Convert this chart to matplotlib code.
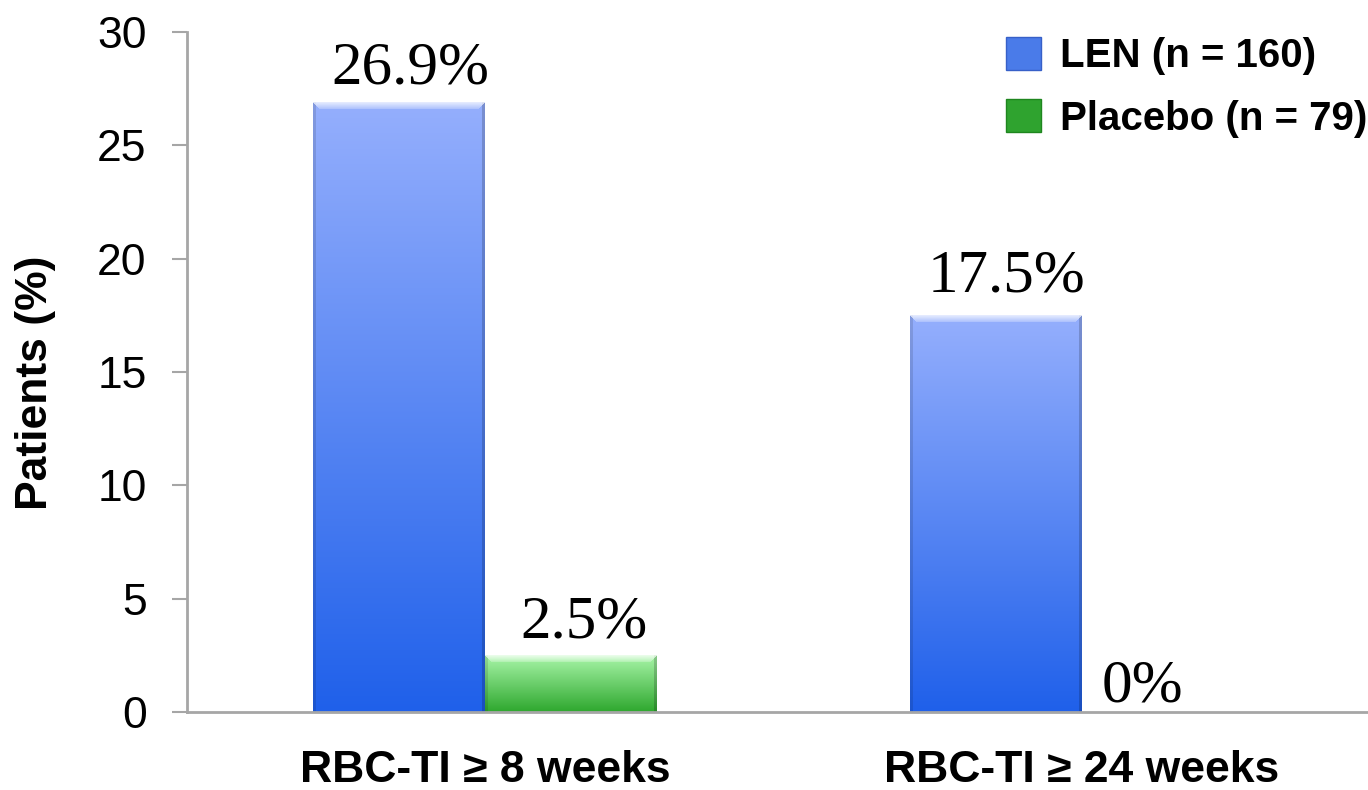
import matplotlib

matplotlib.use("Agg")
import matplotlib.pyplot as plt
import numpy as np
from matplotlib.colors import to_rgb
from matplotlib.patches import Patch

# response rates by endpoint
categories = ["RBC-TI \u2265 8 weeks", "RBC-TI \u2265 24 weeks"]
len_pct = [26.9, 17.5]
placebo_pct = [2.5, 0.0]
series_labels = ["LEN (n = 160)", "Placebo (n = 79)"]
value_text_len = ["26.9%", "17.5%"]
value_text_placebo = ["2.5%", "0%"]
yticks = [0, 5, 10, 15, 20, 25, 30]

BLUE_TOP, BLUE_BOT = "#95affd", "#1f60ea"
GREEN_TOP, GREEN_BOT = "#a8f5a8", "#2fa82f"
AXIS_GREY = "#a6a6a6"

W, H, DPI = 13.68, 7.90, 100
BAR_W = 0.288


def gradient_fill(ax, bar, top, bot, bevel=7):
    """Paint a bar with a vertical gradient plus a light bevel on top."""
    x0, y0 = bar.get_x(), bar.get_y()
    x1, y1 = x0 + bar.get_width(), y0 + bar.get_height()
    (px0, py0), (px1, py1) = ax.transData.transform([(x0, y0), (x1, y1)])
    npx_w = max(int(round(px1 - px0)), 2)
    npx_h = max(int(round(py1 - py0)), 2)
    t = np.linspace(0, 1, npx_h)[:, None, None]
    c_top, c_bot = np.array(to_rgb(top)), np.array(to_rgb(bot))
    img = c_top * (1 - t) + c_bot * t
    img = np.repeat(img, npx_w, axis=1)
    # darker side edges
    side = 3
    img[:, :side] *= 0.88
    img[:, -side:] *= 0.82
    # bevelled top rim
    for r in range(min(bevel, npx_h)):
        a = 0.75 - 0.08 * r
        img[r, r:npx_w - r] = img[r, r:npx_w - r] * (1 - a) + a
    img = np.clip(img, 0, 1)
    im = ax.imshow(img, extent=(x0, x1, y0, y1), aspect="auto",
                   origin="upper", zorder=2, interpolation="bilinear")
    im.set_clip_path(bar)


fig = plt.figure(figsize=(W, H), dpi=DPI)
ax = fig.add_axes([187 / 1368, 1 - 712 / 790, (1368 - 187) / 1368,
                   (712 - 32) / 790])

x = np.arange(len(categories))
bars_len = ax.bar(x - BAR_W / 2, len_pct, BAR_W, color="none",
                  edgecolor="none", zorder=3)
bars_pl = ax.bar(x + BAR_W / 2, placebo_pct, BAR_W, color="none",
                 edgecolor="none", zorder=3)

ax.set_xlim(-0.5, 1.48)
ax.set_ylim(0, 30)

for b in bars_len:
    gradient_fill(ax, b, BLUE_TOP, BLUE_BOT)
for b in bars_pl:
    if b.get_height() > 0:
        gradient_fill(ax, b, GREEN_TOP, GREEN_BOT)

# value labels above the bars, hand-placed offsets in points
offsets_len = [(8, 13.7), (8, 17.3)]
offsets_pl = [(9, 13), (-18, 7.2)]
for bars, texts, offs in ((bars_len, value_text_len, offsets_len),
                          (bars_pl, value_text_placebo, offsets_pl)):
    for b, s, off in zip(bars, texts, offs):
        ax.annotate(s, (b.get_x() + b.get_width() / 2, b.get_height()),
                    xytext=off, textcoords="offset points",
                    ha="center", va="baseline", fontsize=44,
                    family="Liberation Serif", zorder=5)

for side in ("top", "right"):
    ax.spines[side].set_visible(False)
for side in ("left", "bottom"):
    ax.spines[side].set_color(AXIS_GREY)
    ax.spines[side].set_linewidth(2)

ax.set_yticks(yticks)
ax.set_yticklabels([str(v) for v in yticks], family="Liberation Sans",
                   fontsize=32)
ax.tick_params(axis="y", direction="out", length=11, width=1.5,
               color=AXIS_GREY, pad=18)
ax.set_xticks(x)
ax.set_xticklabels(categories, family="Liberation Sans", fontsize=32,
                   fontweight="bold")
ax.tick_params(axis="x", length=0, pad=27)
ax.set_ylabel("Patients (%)", family="Liberation Sans", fontsize=32,
              fontweight="bold", labelpad=30)
ax.yaxis.label.set_y(0.484)

handles = [Patch(facecolor="#4a7be9", edgecolor="#3760c8"),
           Patch(facecolor="#2fa32f", edgecolor="#1f861f")]
leg = ax.legend(handles, series_labels, loc="upper left",
                bbox_to_anchor=(1006 / 1368, 1 - 37 / 790),
                bbox_transform=fig.transFigure, frameon=False,
                prop={"family": "Liberation Sans", "size": 29,
                      "weight": "bold"},
                handlelength=0.87, handleheight=0.87, handletextpad=0.48,
                labelspacing=0.6, borderaxespad=0, borderpad=0)

fig.savefig("out.png", dpi=DPI)
